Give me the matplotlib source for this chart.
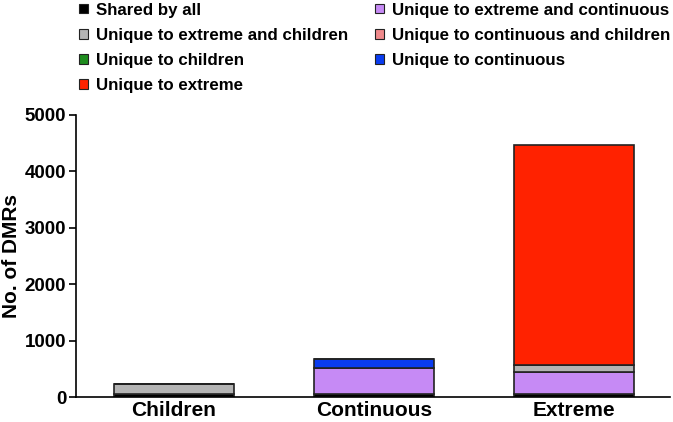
import matplotlib.pyplot as plt
from matplotlib.patches import Patch

plt.rcParams['font.family'] = ['Liberation Sans', 'DejaVu Sans']
plt.rcParams['font.weight'] = 'bold'

groups = ['Children', 'Continuous', 'Extreme']
# stack order bottom -> top
labels = ['Shared by all', 'Unique to extreme and continuous', 'Unique to extreme and children',
          'Unique to continuous and children', 'Unique to children', 'Unique to continuous',
          'Unique to extreme']
colors = ['#000000', '#c68af5', '#b4b4b4', '#f08a8c', '#1e8c1e', '#0a3cf0', '#ff2200']
shared = [55, 55, 55]
ext_cont = [0, 454, 394]
ext_child = [170, 0, 118]
cont_child = [0, 0, 0]
child_only = [0, 0, 0]
cont_only = [0, 165, 0]
ext_only = [0, 0, 3900]
series = [shared, ext_cont, ext_child, cont_child, child_only, cont_only, ext_only]

fig = plt.figure(figsize=(6.73, 4.22), dpi=100)
ax = fig.add_axes([0.113, 0.0592, 0.8825, 0.6683])
x = range(len(groups))
bottom = [0, 0, 0]
for vals, c in zip(series, colors):
    ax.bar(x, vals, bottom=bottom, width=0.6, color=c, edgecolor='#222222', linewidth=1.2)
    bottom = [b + v for b, v in zip(bottom, vals)]

ax.set_xlim(-0.49, 2.48)
ax.set_ylim(0, 5000)
ax.set_yticks([0, 1000, 2000, 3000, 4000, 5000])
ax.set_xticks(list(x))
ax.set_xticklabels(groups, fontsize=15, fontweight='bold')
ax.tick_params(axis='y', labelsize=13.5, length=5, width=1.2, pad=2)
ax.tick_params(axis='x', length=0, pad=3)
for t in ax.get_yticklabels():
    t.set_fontweight('bold')
ax.set_ylabel('No. of DMRs', fontsize=15, fontweight='bold')
ax.yaxis.set_label_coords(-0.092, 0.5)
ax.spines['top'].set_visible(False)
ax.spines['right'].set_visible(False)
ax.spines['left'].set_linewidth(1.2)
ax.spines['bottom'].set_linewidth(1.2)

order = [0, 2, 4, 6, 1, 3, 5]
handles = [Patch(facecolor=colors[i], edgecolor='#222222', linewidth=0.8, label=labels[i]) for i in order]
fig.legend(handles=handles, ncol=2, loc='upper left', bbox_to_anchor=(0.095, 1.03), frameon=False,
           prop={'size': 12.2, 'weight': 'bold'}, handlelength=0.5, handleheight=0.5,
           handletextpad=0.5, columnspacing=1.6, labelspacing=0.6)

fig.savefig('out.png', dpi=100)
